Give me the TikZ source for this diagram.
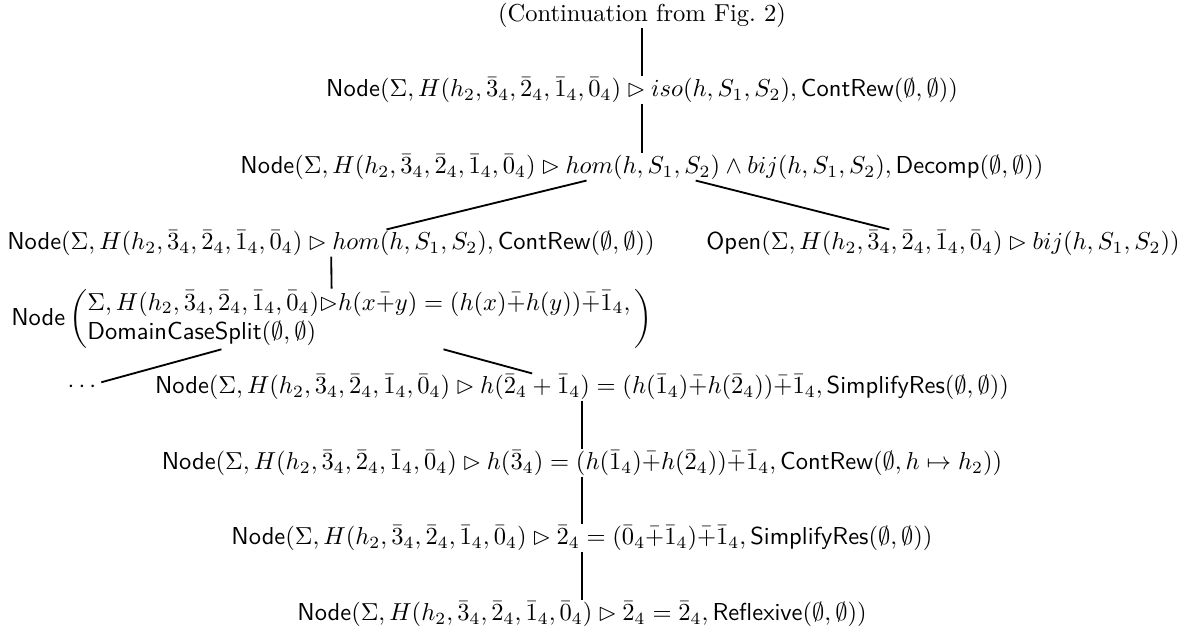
\documentclass[tikz,border=0pt]{standalone}
\usepackage{amsmath, amssymb}
\usepackage{tikz}

\newcommand{\ctx}{\Sigma, H(h_2,\bar{3}_4,\bar{2}_4,\bar{1}_4,\bar{0}_4)}
\newcommand{\bplus}{\bar{+}}

\begin{document}
\begin{tikzpicture}[x=0.408pt, y=-0.408pt, every node/.style={inner sep=0pt}, line width=0.75pt]
\useasboundingbox (0,0) rectangle (1204,636);

% Nodes of the derivation
\node (cont) at (642,15) {(Continuation from Fig.~2)};
\node (iso) at (642,90) {$\textsf{Node}(\ctx \rhd iso(h,S_1,S_2), \textsf{ContRew}(\emptyset,\emptyset))$};
\node (decomp) at (642,167) {$\textsf{Node}(\ctx \rhd hom(h,S_1,S_2) \wedge bij(h,S_1,S_2), \textsf{Decomp}(\emptyset,\emptyset))$};
\node (hom) at (331,243) {$\textsf{Node}(\ctx \rhd hom(h,S_1,S_2), \textsf{ContRew}(\emptyset,\emptyset))$};
\node (open) at (943,243) {$\textsf{Open}(\ctx \rhd bij(h,S_1,S_2))$};
\node (split) at (332,319) {$\textsf{Node}\left(\begin{array}{@{}l@{}}
  \ctx{\rhd}h(x\bplus y) = (h(x)\bplus h(y))\bplus\bar{1}_4,\, \\
  \textsf{DomainCaseSplit}(\emptyset,\emptyset)
  \end{array}\right)$};
\node (dots) at (84,387) {$\cdots$};
\node (simp) at (582,387) {$\textsf{Node}(\ctx \rhd h(\bar{2}_4+\bar{1}_4) = (h(\bar{1}_4)\bplus h(\bar{2}_4))\bplus\bar{1}_4, \textsf{SimplifyRes}(\emptyset,\emptyset))$};
\node (rew) at (582,463) {$\textsf{Node}(\ctx \rhd h(\bar{3}_4) = (h(\bar{1}_4)\bplus h(\bar{2}_4))\bplus\bar{1}_4, \textsf{ContRew}(\emptyset,h\mapsto h_2))$};
\node (simpb) at (582,538) {$\textsf{Node}(\ctx \rhd \bar{2}_4 = (\bar{0}_4\bplus\bar{1}_4)\bplus\bar{1}_4, \textsf{SimplifyRes}(\emptyset,\emptyset))$};
\node (refl) at (582,614) {$\textsf{Node}(\ctx \rhd \bar{2}_4 = \bar{2}_4, \textsf{Reflexive}(\emptyset,\emptyset))$};

% Edges
\draw (cont) -- (iso);
\draw (iso) -- (decomp);
\draw (decomp) -- (hom);
\draw (decomp) -- (open);
\draw (hom) -- (split);
\draw (split) -- (dots);
\draw (split) -- (simp);
\draw (simp) -- (rew);
\draw (rew) -- (simpb);
\draw (simpb) -- (refl);
\end{tikzpicture}
\end{document}
